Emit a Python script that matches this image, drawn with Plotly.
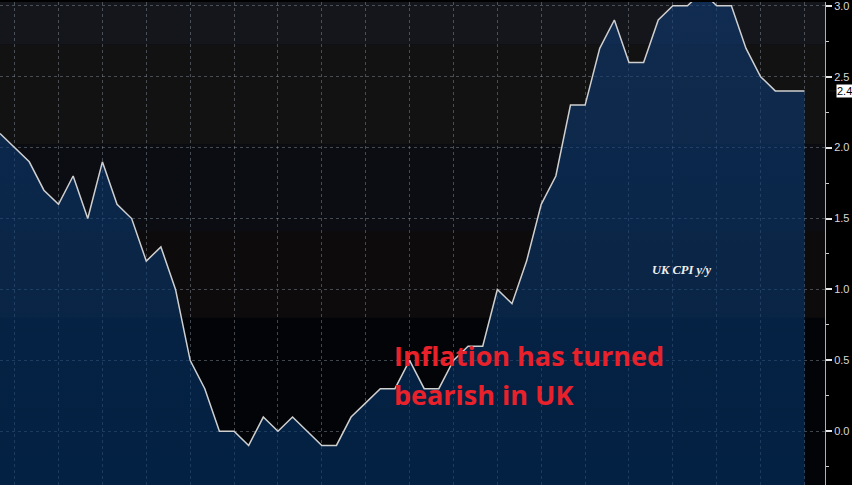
import plotly.graph_objects as go

# ---- data ----
months = [
    "2013-11", "2013-12",
    "2014-01", "2014-02", "2014-03", "2014-04", "2014-05", "2014-06",
    "2014-07", "2014-08", "2014-09", "2014-10", "2014-11", "2014-12",
    "2015-01", "2015-02", "2015-03", "2015-04", "2015-05", "2015-06",
    "2015-07", "2015-08", "2015-09", "2015-10", "2015-11", "2015-12",
    "2016-01", "2016-02", "2016-03", "2016-04", "2016-05", "2016-06",
    "2016-07", "2016-08", "2016-09", "2016-10", "2016-11", "2016-12",
    "2017-01", "2017-02", "2017-03", "2017-04", "2017-05", "2017-06",
    "2017-07", "2017-08", "2017-09", "2017-10", "2017-11", "2017-12",
    "2018-01", "2018-02", "2018-03", "2018-04", "2018-05", "2018-06",
]
cpi_yoy = [
    2.1, 2.0,
    1.9, 1.7, 1.6, 1.8, 1.5, 1.9,
    1.6, 1.5, 1.2, 1.3, 1.0, 0.5,
    0.3, 0.0, 0.0, -0.1, 0.1, 0.0,
    0.1, 0.0, -0.1, -0.1, 0.1, 0.2,
    0.3, 0.3, 0.5, 0.3, 0.3, 0.5,
    0.6, 0.6, 1.0, 0.9, 1.2, 1.6,
    1.8, 2.3, 2.3, 2.7, 2.9, 2.6,
    2.6, 2.9, 3.0, 3.0, 3.1, 3.0,
    3.0, 2.7, 2.5, 2.4, 2.4, 2.4,
]
y_ticks = [0.0, 0.5, 1.0, 1.5, 2.0, 2.5, 3.0]
series_label = "UK CPI y/y"
headline = ["Inflation has turned", "bearish in UK"]

# ---- layout constants ----
Y_MIN, Y_MAX = -0.379, 3.027
X_MAX = 56.4
W, H = 852, 485
PLOT_W = 825

x_idx = list(range(len(months)))

fig = go.Figure()

# baseline at the bottom of the plot so the area fills down to the frame
fig.add_trace(go.Scatter(
    x=x_idx, y=[Y_MIN] * len(months), mode="lines",
    line=dict(width=0), hoverinfo="skip", showlegend=False,
))
fig.add_trace(go.Scatter(
    x=x_idx, y=cpi_yoy, mode="lines", name=series_label,
    line=dict(color="#cfcfcf", width=1.5),
    fill="tonexty",
    fillgradient=dict(
        type="vertical", start=Y_MIN, stop=Y_MAX,
        colorscale=[[0, "rgba(3,52,105,0.6)"], [1, "rgba(14,58,115,0.6)"]],
    ),
    showlegend=False,
))

# background bands (Bloomberg style)
bands = [
    (0, 43, "#14161b"),
    (43, 143, "#121212"),
    (143, 230, "#0b0d12"),
    (230, 317, "#0d0b0b"),
]
shapes = []
for top, bot, col in bands:
    shapes.append(dict(
        type="rect", xref="paper", yref="paper", x0=0, x1=1,
        y0=1 - bot / H, y1=1 - top / H, fillcolor=col, line=dict(width=0),
        layer="below",
    ))

annotations = [
    dict(xref="paper", yref="paper", x=392 / PLOT_W, y=1 - 355 / H,
         xanchor="left", yanchor="middle", showarrow=False,
         text=headline[0],
         font=dict(family="Open Sans", size=27, color="#e8212b", weight="bold")),
    dict(xref="paper", yref="paper", x=392 / PLOT_W, y=1 - 394 / H,
         xanchor="left", yanchor="middle", showarrow=False,
         text=headline[1],
         font=dict(family="Open Sans", size=27, color="#e8212b", weight="bold")),
    dict(xref="paper", yref="paper", x=681 / PLOT_W, y=1 - 269 / H,
         xanchor="center", yanchor="middle", showarrow=False,
         text=series_label,
         font=dict(family="Liberation Serif", size=12.5, color="#f0f0f0",
                   style="italic", weight="bold")),
    # last value tag
    dict(xref="paper", yref="y", x=1.005, y=cpi_yoy[-1],
         ax=7, ay=0, axref="pixel", ayref="pixel",
         xanchor="left", yanchor="middle",
         showarrow=True, arrowhead=0, arrowwidth=0.1, arrowcolor="white",
         standoff=0,
         text=f"{cpi_yoy[-1]:.1f}", bgcolor="white", borderpad=0,
         font=dict(family="Liberation Sans", size=11, color="black")),
]

fig.update_layout(
    width=W, height=H,
    margin=dict(l=0, r=W - PLOT_W, t=0, b=0),
    paper_bgcolor="#000000",
    plot_bgcolor="#030407",
    shapes=shapes,
    annotations=annotations,
    showlegend=False,
    xaxis=dict(
        range=[0, X_MAX], showticklabels=False, ticks="",
        tickmode="linear", tick0=1, dtick=3,
        showgrid=True, gridcolor="rgba(140,150,165,0.45)", griddash="dot",
        gridwidth=1, zeroline=False, showline=False,
    ),
    yaxis=dict(
        side="right", range=[Y_MIN, Y_MAX],
        tickvals=y_ticks, ticktext=[f"{v:.1f}" for v in y_ticks],
        ticks="outside", ticklen=6, tickwidth=2, tickcolor="#e8e8e8",
        tickfont=dict(family="Liberation Sans", size=11, color="#d8d8d8"),
        ticklabeloverflow="allow",
        minor=dict(tickmode="linear", tick0=-0.25, dtick=0.5, ticks="outside",
                   ticklen=3, tickwidth=1, tickcolor="#cccccc", showgrid=False),
        showgrid=True, gridcolor="rgba(140,150,165,0.45)", griddash="dot",
        gridwidth=1, zeroline=False,
        showline=True, linecolor="#b0b0b0", linewidth=1,
    ),
)

fig.write_html(
    "out.html",
    config={"displayModeBar": False},
    post_script="document.body.style.margin='0';document.body.style.background='#000';",
)
